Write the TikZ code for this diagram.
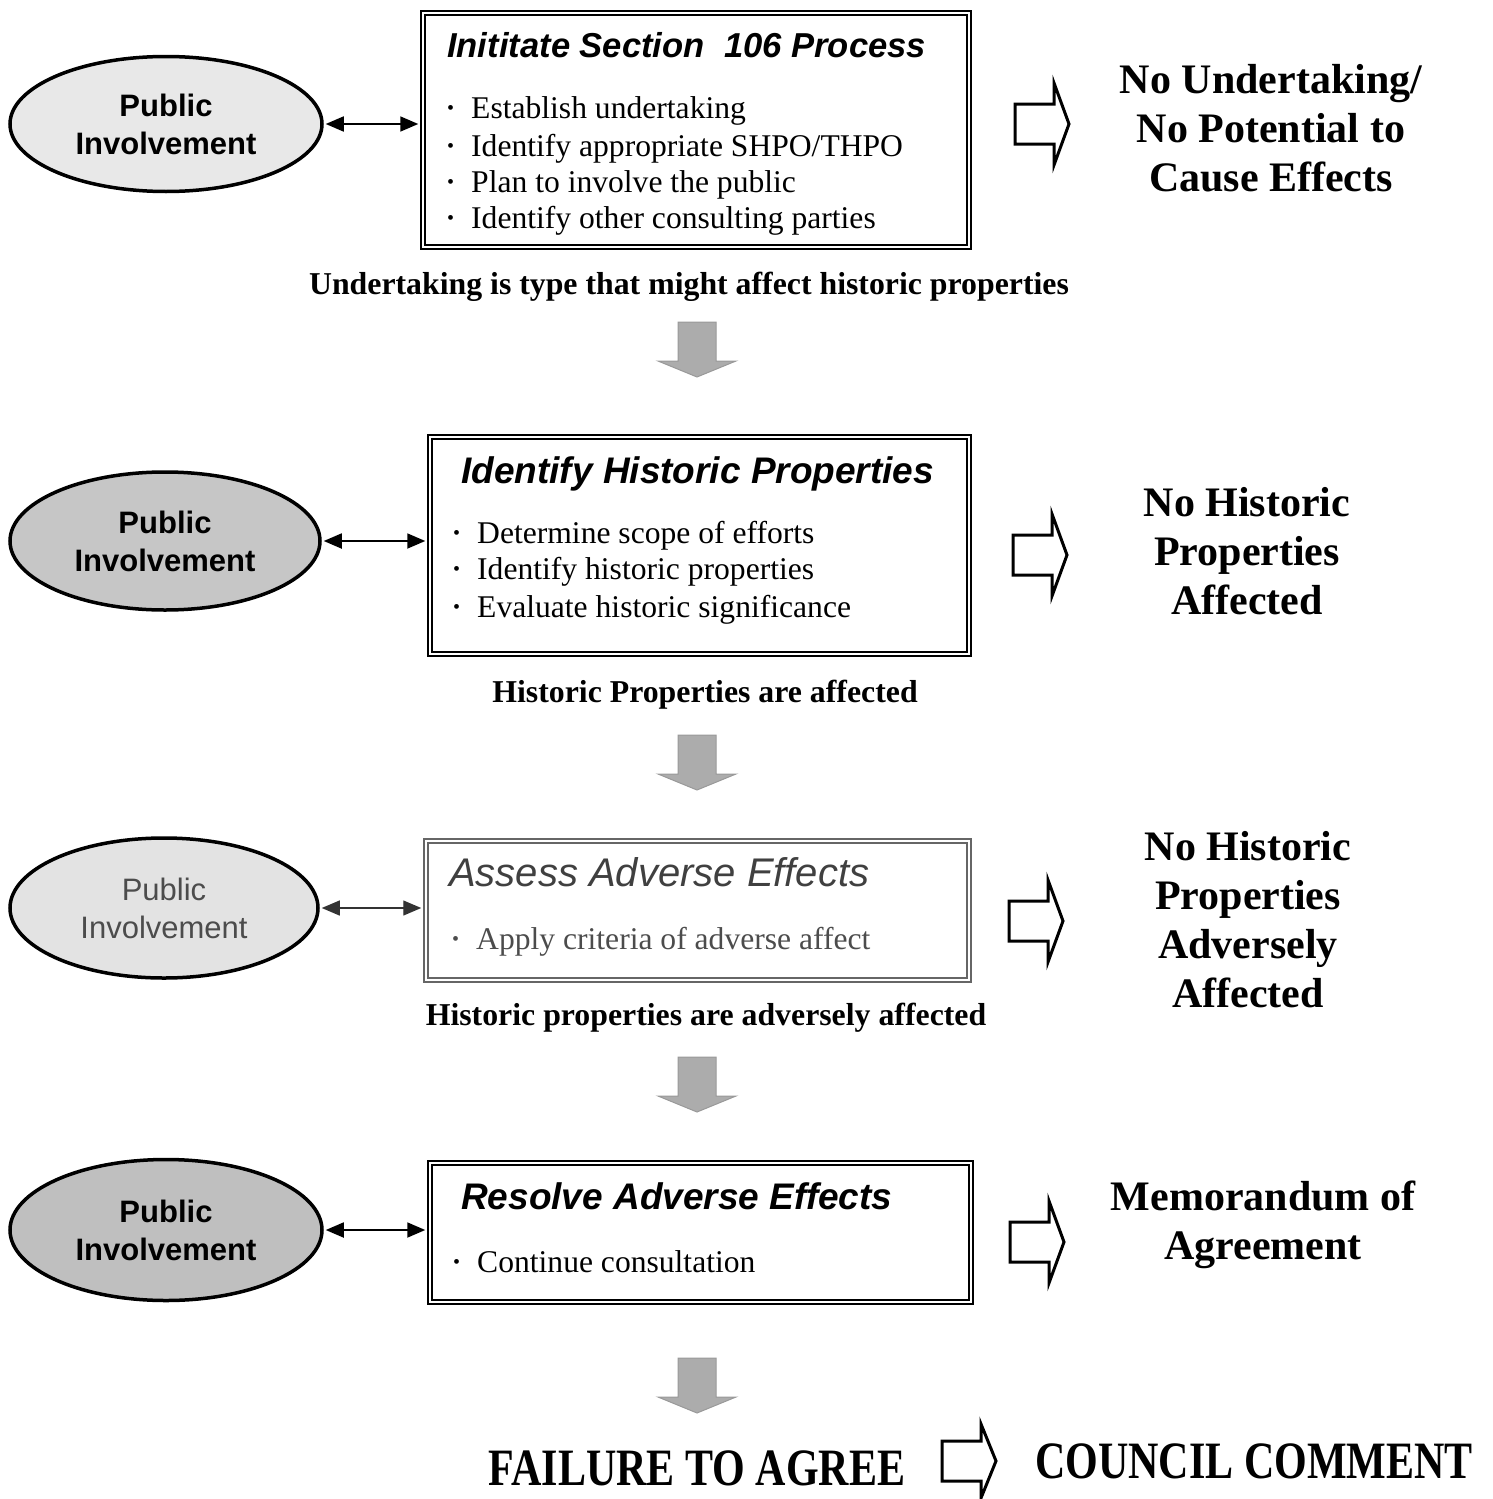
\documentclass[tikz,border=0pt]{standalone}
\usepackage{fontspec}
\setmainfont{Liberation Serif}
\setsansfont{Liberation Sans}
\usetikzlibrary{shapes.geometric,arrows.meta}
\newcommand{\bl}{\makebox[24pt][l]{\raisebox{4pt}{\fontsize{20}{20}\selectfont\textbullet}}}
\newcommand{\hollowarrow}[3]{%
  \draw[hollow] (#1,#2) ++(0,-20) -- ++(39,0) -- ++(0,-#3) -- ++(15,20+#3) -- ++(-15,20+#3) -- ++(0,-#3) -- ++(-39,0) -- cycle;}
\newcommand{\grayarrow}[2]{%
  \draw[downarr] (#1,#2) ++(-19,0) -- ++(38,0) -- ++(0,39) -- ++(20,0) -- ++(-39,16) -- ++(-39,-16) -- ++(20,0) -- cycle;}
\begin{document}
\begin{tikzpicture}[x=1pt,y=-1pt,
  procbox/.style={draw, double, double distance=2.6pt, line width=1.5pt, inner sep=0pt, rectangle},
  pubell/.style={ellipse, draw, line width=3.5pt, inner sep=0pt, align=center,
     font=\sffamily\bfseries\fontsize{31}{38}\selectfont},
  link/.style={line width=1.8pt, {Triangle[length=18pt,width=15pt]}-{Triangle[length=18pt,width=15pt]},
     shorten <=2pt, shorten >=4pt},
  ttl/.style={anchor=base west, inner sep=0pt, font=\sffamily\bfseries\itshape\fontsize{37}{40}\selectfont},
  item/.style={anchor=base west, inner sep=0pt, font=\rmfamily\fontsize{31.6}{36}\selectfont},
  lbl/.style={inner sep=0pt, font=\rmfamily\bfseries\fontsize{31.8}{36}\selectfont},
  outc/.style={align=center, inner sep=0pt, font=\rmfamily\bfseries\fontsize{42}{49}\selectfont},
  hollow/.style={draw, line width=3pt, fill=white, line join=miter},
  downarr/.style={fill=gray!65, draw=gray!80, line width=1pt}]
\useasboundingbox (0,0) rectangle (1493,1499);

% ---------- process boxes ----------
\node[procbox, minimum width=546pt, minimum height=234pt] (b1) at (696,130) {};
\node[procbox, minimum width=539pt, minimum height=217pt] (b2) at (699.5,545.5) {};
\node[procbox, draw=black!60, minimum width=543pt, minimum height=139pt] (b3) at (697.5,910.5) {};
\node[procbox, minimum width=541pt, minimum height=139pt] (b4) at (700.5,1232.5) {};

% box 1 contents
\node[ttl, font=\sffamily\bfseries\itshape\fontsize{34.6}{40}\selectfont] (t1) at (447,57) {Inititate Section\ \ 106 Process};
\node[item] (i11) at (447,118) {\bl Establish undertaking};
\node[item] (i12) at (447,156) {\bl Identify appropriate SHPO/THPO};
\node[item] (i13) at (447,192) {\bl Plan to involve the public};
\node[item] (i14) at (447,228) {\bl Identify other consulting parties};

% box 2 contents
\node[ttl] (t2) at (461,483) {Identify Historic Properties};
\node[item] (i21) at (453,543) {\bl Determine scope of efforts};
\node[item] (i22) at (453,579) {\bl Identify historic properties};
\node[item] (i23) at (453,617) {\bl Evaluate historic significance};

% box 3 contents
\node[ttl, text=black!75, font=\sffamily\itshape\fontsize{40}{40}\selectfont] (t3) at (449,886) {Assess Adverse Effects};
\node[item, text=black!70] (i31) at (452,949) {\bl Apply criteria of adverse affect};

% box 4 contents
\node[ttl] (t4) at (461,1209) {Resolve Adverse Effects};
\node[item] (i41) at (453,1272) {\bl Continue consultation};

% ---------- public involvement ellipses ----------
\node[pubell, fill=gray!18, minimum width=312pt, minimum height=135pt] (e1) at (166,124) {Public\\Involvement};
\node[pubell, fill=gray!45, minimum width=310pt, minimum height=138pt] (e2) at (165,541) {Public\\Involvement};
\node[pubell, fill=gray!22, text=black!70, font=\sffamily\fontsize{31}{38}\selectfont,
      minimum width=308pt, minimum height=140pt] (e3) at (164,908) {Public\\Involvement};
\node[pubell, fill=gray!50, minimum width=312pt, minimum height=141pt] (e4) at (166,1230) {Public\\Involvement};

\draw[link] (e1.east) -- (e1.east -| b1.west);
\draw[link] (e2.east) -- (e2.east -| b2.west);
\draw[link, line width=1.3pt, draw=black!80] (e3.east) -- (e3.east -| b3.west);
\draw[link] (e4.east) -- (e4.east -| b4.west);

% ---------- condition labels ----------
\node[lbl] (l1) at (689,287) {Undertaking is type that might affect historic properties};
\node[lbl] (l2) at (705,695) {Historic Properties are affected};
\node[lbl] (l3) at (706,1018) {Historic properties are adversely affected};

% ---------- downward gray arrows ----------
\grayarrow{697}{322}
\grayarrow{697}{735}
\grayarrow{697}{1057}
\grayarrow{697}{1358}

% ---------- hollow right arrows ----------
\hollowarrow{1015}{124}{21}
\hollowarrow{1013}{555}{21}
\hollowarrow{1009}{921}{21}
\hollowarrow{1010}{1242}{21}
\hollowarrow{942}{1461}{17}

% ---------- outcomes ----------
\node[outc] (o1) at (1271,128) {No Undertaking/\\No Potential to\\Cause Effects};
\node[outc] (o2) at (1247,551) {No Historic\\Properties\\Affected};
\node[outc] (o3) at (1248,920) {No Historic\\Properties\\Adversely\\Affected};
\node[outc] (o4) at (1263,1225) {Memorandum of\\Agreement};
\node[outc] (o5) at (697,1468) {\scalebox{1}[1.25]{FAILURE TO AGREE}};
\node[outc] (o6) at (1254,1461) {\scalebox{1}[1.25]{COUNCIL COMMENT}};
\end{tikzpicture}
\end{document}
